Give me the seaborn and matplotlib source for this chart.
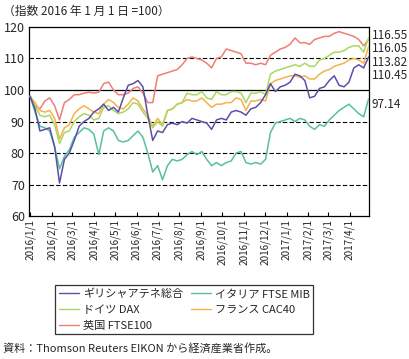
import pandas as pd
import matplotlib
matplotlib.use("Agg")
import matplotlib.pyplot as plt
import seaborn as sns

# weekly points (Fridays)
dates = pd.date_range("2016-01-01", "2017-04-28", freq="7D")

greece = [98, 94, 87, 87.5, 88, 82, 70.5, 78, 80, 84,
          88.5, 90, 91, 93, 94, 95.5, 93.5, 94.5, 93, 97.5,
          101.5, 102, 103, 101, 92, 84, 87, 86.5, 89, 89.5,
          89, 90, 89.5, 91, 90.5, 90, 89.5, 87.5, 90.5, 91,
          90.5, 93, 93.5, 93, 92, 94, 94.5, 96, 98.5, 102,
          99.5, 101, 101.5, 102.5, 105, 104.5, 103, 97.5, 98, 100.5,
          101, 103, 104.5, 101.5, 101, 102.5, 107, 108, 107, 110.45]

italy = [98, 93, 88.5, 88, 87, 82, 75, 79, 81, 85,
         86.5, 88, 87.5, 86, 79.5, 87, 88, 87, 84, 83.5,
         84, 85.5, 87, 85, 80, 74, 76, 71.5, 76, 78,
         77.5, 78, 79.5, 80.5, 79.5, 80.5, 78, 76, 77, 76,
         77, 77.5, 80, 80.5, 77, 76.5, 77, 76.5, 78, 86.5,
         89.5, 90, 90.5, 91, 90, 91, 90.5, 88.5, 87.5, 89,
         88.5, 90.5, 92, 93.5, 94.5, 95.5, 94, 92.5, 91.5, 97.14]

germany = [98, 95, 92, 91.5, 92, 89, 83, 86.5, 87, 90,
           91.5, 92.5, 92, 90.5, 91, 94.5, 95, 93.5, 92.5, 93,
           94, 96, 95.5, 93, 91, 88, 90, 88.5, 93.5, 94,
           95.5, 96, 99, 98.5, 98.5, 99.5, 97.5, 97, 99.5, 98.5,
           98.5, 99.5, 99.5, 99, 96, 99, 99, 99.5, 98.5, 105,
           106, 106.5, 107, 107.5, 108, 107.5, 108.5, 107.5, 107.5, 109.5,
           110, 111, 112, 112, 112.5, 113.5, 114, 114, 112, 116.55]

france = [98, 96, 93.5, 93, 93.5, 91, 84.5, 88, 89, 92.5,
          94, 95, 94, 93, 92.5, 95.5, 97, 96, 94.5, 94,
          95.5, 97.5, 96.5, 94, 92, 88.5, 91, 89, 93.5, 94,
          95.5, 96, 97, 96.5, 96.5, 97.5, 96, 94.5, 95.5, 95.5,
          96, 96, 97.5, 97, 93.5, 96.5, 96.5, 97, 96.5, 102,
          103, 103.5, 104, 104.5, 104.5, 104, 104.5, 103.5, 103.5, 105,
          106, 106.5, 107.5, 108, 108.5, 109.5, 110, 109.5, 108.5, 113.82]

uk = [98, 95, 94, 96.5, 97.5, 95, 90.5, 96, 97, 98.5,
      98.5, 99, 99.3, 99, 99.3, 102, 102.5, 100, 98.5, 98.5,
      99, 100.5, 101, 99, 96, 96, 104.5, 105, 105.5, 106,
      106.5, 108, 110, 110.5, 110, 109.5, 108.5, 107, 110, 110.5,
      113, 112.5, 112, 111.5, 108.5, 108.5, 108, 108.5, 108, 111,
      112, 113, 113.5, 114.5, 116.5, 115, 115, 114.5, 116, 116.5,
      117, 117, 118, 118.5, 118, 117.5, 117, 116, 114, 116.05]

names = ["ギリシャアテネ総合", "イタリア FTSE MIB", "ドイツ DAX", "フランス CAC40", "英国 FTSE100"]
colors = ["#5a50a8", "#58bfa2", "#a9d862", "#f6b14c", "#ee7f74"]
series = [greece, italy, germany, france, uk]
end_labels = ["116.55", "116.05", "113.82", "110.45", "97.14"]
month_ticks = pd.date_range("2016-01-01", "2017-04-01", freq="MS")

df = pd.concat([pd.DataFrame({"date": dates, "value": v, "name": n})
                for n, v in zip(names, series)], ignore_index=True)

sns.set_theme(style="white")
plt.rcParams['font.family'] = ['Noto Sans CJK JP', 'DejaVu Sans']

fig = plt.figure(figsize=(4.09, 3.59), dpi=100)
ax = fig.add_axes([0.071, 0.398, 0.831, 0.527])

for v in [70, 80, 90, 110]:
    ax.axhline(v, color="black", lw=0.8, ls=(0, (4, 2)), zorder=1)
ax.axhline(100, color="black", lw=0.9, zorder=1)

# draw red first so the others sit on top
draw_order = [4, 1, 3, 2, 0]
for i in draw_order:
    sns.lineplot(data=df[df["name"] == names[i]], x="date", y="value",
                 color=colors[i], lw=1.1, ax=ax, label=names[i], zorder=3)

ax.set_xlim(pd.Timestamp("2015-12-30 12:00"), pd.Timestamp("2017-04-28 12:00"))
ax.set_ylim(60, 120)
ax.set_yticks(range(60, 121, 10))
ax.set_xlabel("")
ax.set_ylabel("")
ax.set_xticks(month_ticks)
ax.set_xticklabels([f"{d.year}/{d.month}/1" for d in month_ticks], rotation=90, fontsize=7.2)
ax.tick_params(axis="y", labelsize=9, length=0, pad=3)
ax.tick_params(axis="x", direction="in", length=3, width=0.8, color="black", pad=2, bottom=True)
for s in ax.spines.values():
    s.set_color("black")
    s.set_linewidth(0.9)

# end-value labels on the right side
label_pos = [0.955, 0.885, 0.81, 0.745, 0.59]
for t, yp in zip(end_labels, label_pos):
    ax.text(1.008, yp, t, transform=ax.transAxes, fontsize=8.5, va="center", ha="left")

handles, labels = ax.get_legend_handles_labels()
lookup = dict(zip(labels, handles))
order = [names[0], names[2], names[4], names[1], names[3]]
leg = fig.legend([lookup[n] for n in order], order, ncol=2, loc="upper left",
                 bbox_to_anchor=(0.1345, 0.2061), fontsize=8, frameon=True,
                 fancybox=False, edgecolor="black", handlelength=1.8,
                 handletextpad=0.35, columnspacing=0.7, borderpad=0.35,
                 labelspacing=0.5, borderaxespad=0)
leg.get_frame().set_linewidth(0.9)
for h in leg.get_lines():
    h.set_linewidth(1.0)
if ax.get_legend() is not None:
    ax.get_legend().remove()

fig.text(0.008, 0.968, "（指数 2016 年 1 月 1 日 =100）", fontsize=8.5, va="center")
fig.text(0.008, 0.031, "資料：Thomson Reuters EIKON から経済産業省作成。", fontsize=8, va="center")

fig.savefig("out.png", dpi=100)
